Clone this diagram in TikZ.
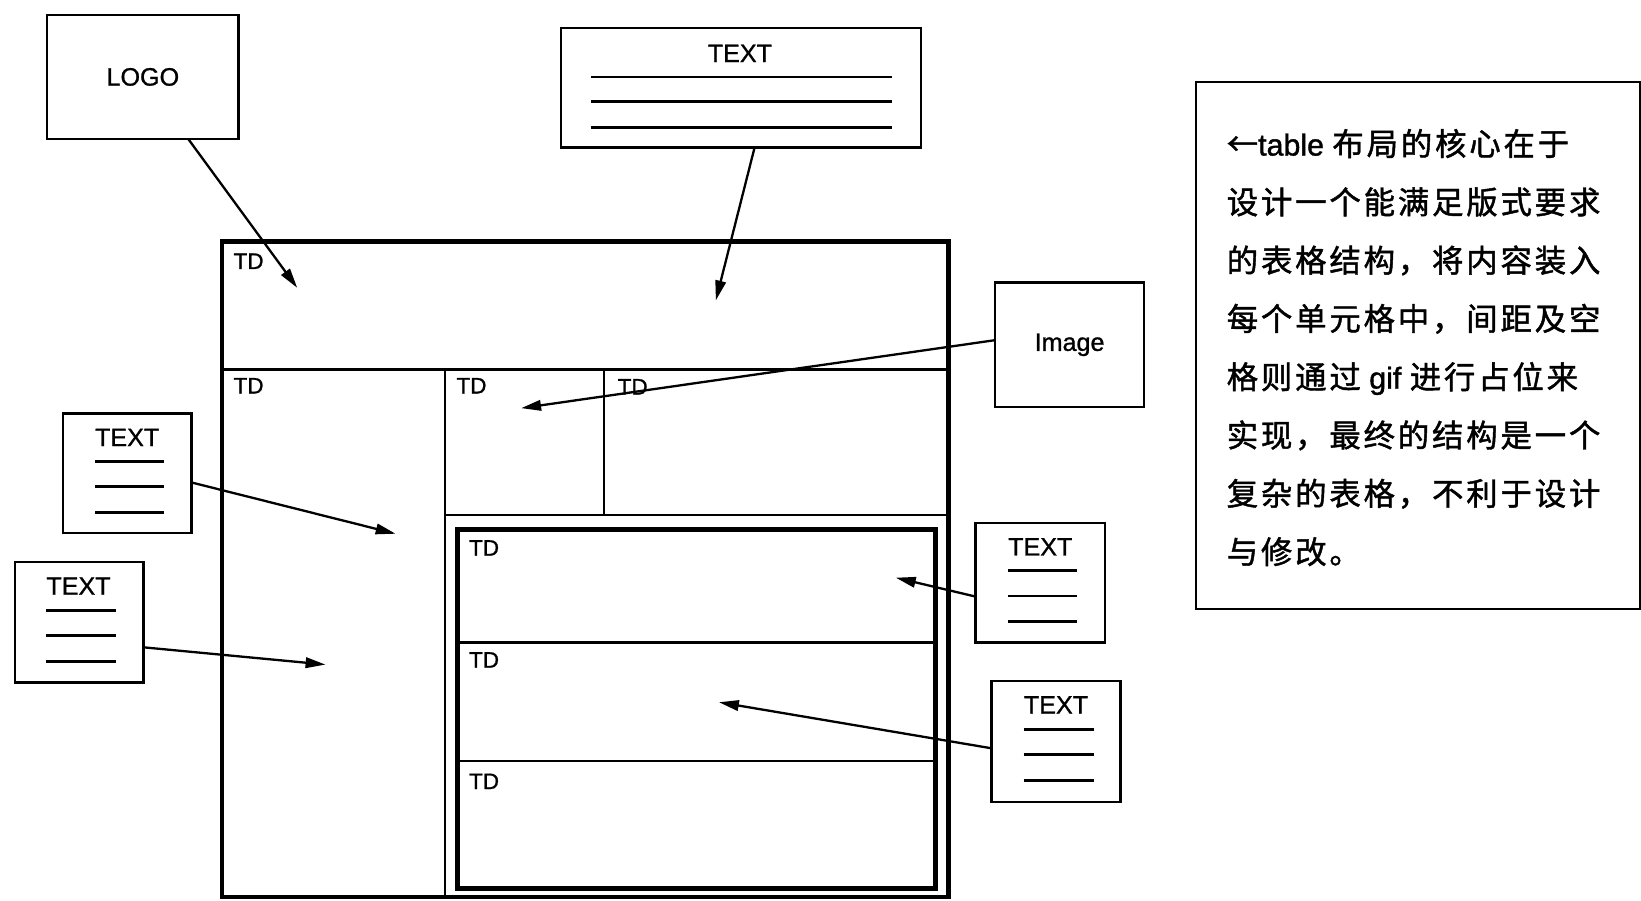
\documentclass[tikz,border=0pt]{standalone}
\usepackage{fontspec}
\setmainfont{Liberation Sans}[FakeBold=1.0]
\newfontfamily\latfont{Liberation Sans}[FakeBold=1.2]
\newfontfamily\cjkfont{Noto Sans CJK SC}[LetterSpace=9,FakeBold=1.4]
\usetikzlibrary{arrows.meta}

\begin{document}
\begin{tikzpicture}[x=1pt,y=-1pt,
  box/.style={draw, line width=2.2pt, inner sep=0pt, outer sep=0pt, anchor=north west,
              font=\fontsize{24}{28}\selectfont},
  caption/.style={inner sep=0pt, font=\fontsize{24}{28}\selectfont},
  tdlabel/.style={anchor=north west, inner sep=0pt, font=\fontsize{21.5}{24}\selectfont},
  cellline/.style={line width=2.2pt},
  frame/.style={line width=4.5pt},
  rule/.style={line width=2.6pt},
  arrow/.style={line width=2.2pt, -{Triangle[length=19pt,width=10pt]}},
  noteline/.style={anchor=base west, inner sep=0pt, font=\fontsize{30}{34}\selectfont\cjkfont}
]
\useasboundingbox (0,0) rectangle (1568,860);

% ---- outer layout table ----
\draw[frame] (212,231) rectangle (906,857);
\draw[cellline] (212,353) -- (906,353);
\draw[cellline] (425,353) -- (425,857);
\draw[cellline] (577,353) -- (577,492);
\draw[cellline] (425,492) -- (906,492);

% ---- nested table ----
\draw[frame] (437,506) rectangle (894,849);
\draw[cellline] (437,614) -- (894,614);
\draw[cellline] (437,727) -- (894,727);

% ---- cell labels ----
\node[tdlabel] (td1) at (223,242) {TD};
\node[tdlabel] (td2) at (223,361) {TD};
\node[tdlabel] (td3) at (436,361) {TD};
\node[tdlabel] (td4) at (590,362) {TD};
\node[tdlabel] (td5) at (448,516) {TD};
\node[tdlabel] (td6) at (448,623) {TD};
\node[tdlabel] (td7) at (448,739) {TD};

% ---- content blocks ----
\node[box, minimum width=183pt, minimum height=119pt] (logo) at (45,14) {LOGO};
\node[box, minimum width=142pt, minimum height=119pt] (img) at (951,270) {Image};

\node[box, minimum width=344pt, minimum height=114pt] (ttop) at (536,27) {};
\node[caption] (ttopcap) at (707,51) {TEXT};
\foreach \y in {73.5,97,122} \draw[rule] (565,\y) -- (852,\y);

\node[box, minimum width=123pt, minimum height=114pt] (tl1) at (60,395) {};
\node[caption] (tl1cap) at (121.5,418) {TEXT};
\foreach \y in {441,465,490} \draw[rule] (91,\y) -- (157,\y);

\node[box, minimum width=123pt, minimum height=115pt] (tl2) at (14,537) {};
\node[caption] (tl2cap) at (75,560) {TEXT};
\foreach \y in {583,607,632} \draw[rule] (44,\y) -- (110.5,\y);

\node[box, minimum width=124pt, minimum height=114pt] (tr1) at (932,500) {};
\node[caption] (tr1cap) at (994,522.5) {TEXT};
\foreach \y in {545,569.5,594} \draw[rule] (963,\y) -- (1029.5,\y);

\node[box, minimum width=123pt, minimum height=115pt] (tr2) at (947.5,651) {};
\node[caption] (tr2cap) at (1009,673.5) {TEXT};
\foreach \y in {697,721,746} \draw[rule] (978,\y) -- (1045,\y);

% ---- arrows into the cells ----
\coordinate (p-logo) at (284,275);
\coordinate (p-top) at (684,287);
\coordinate (p-img) at (498,390);
\coordinate (p-l1) at (378,510);
\coordinate (p-l2) at (311,635);
\coordinate (p-r1) at (856,552);
\coordinate (p-r2) at (687,671);

\draw[arrow] (logo) -- (p-logo);
\draw[arrow] ([xshift=13pt]ttop.south) -- (p-top);
\draw[arrow] ([yshift=4.5pt]img.west) -- (p-img);
\draw[arrow] ([yshift=-9pt]tl1.east) -- (p-l1);
\draw[arrow] ([yshift=-24pt]tl2.east) -- (p-l2);
\draw[arrow] ([yshift=-13pt]tr1.west) -- (p-r1);
\draw[arrow] ([yshift=-6.5pt]tr2.west) -- (p-r2);

% ---- explanatory note ----
\node[draw, line width=2.2pt, inner sep=0pt, anchor=north west,
      minimum width=424pt, minimum height=504pt] (notebox) at (1142,77) {};
\node[noteline] (n1) at (1172,148.6) {←{\latfont\fontsize{29}{34}\selectfont table }布局的核心在于};
\node[noteline] (n2) at (1172,204.3) {设计一个能满足版式要求};
\node[noteline] (n3) at (1172,260.0) {的表格结构，将内容装入};
\node[noteline] (n4) at (1172,315.7) {每个单元格中，间距及空};
\node[noteline] (n5) at (1172,371.4) {格则通过{\latfont\fontsize{29}{34}\selectfont{} gif }进行占位来};
\node[noteline] (n6) at (1172,427.1) {实现，最终的结构是一个};
\node[noteline] (n7) at (1172,482.8) {复杂的表格，不利于设计};
\node[noteline] (n8) at (1172,538.5) {与修改。};
\end{tikzpicture}
\end{document}
